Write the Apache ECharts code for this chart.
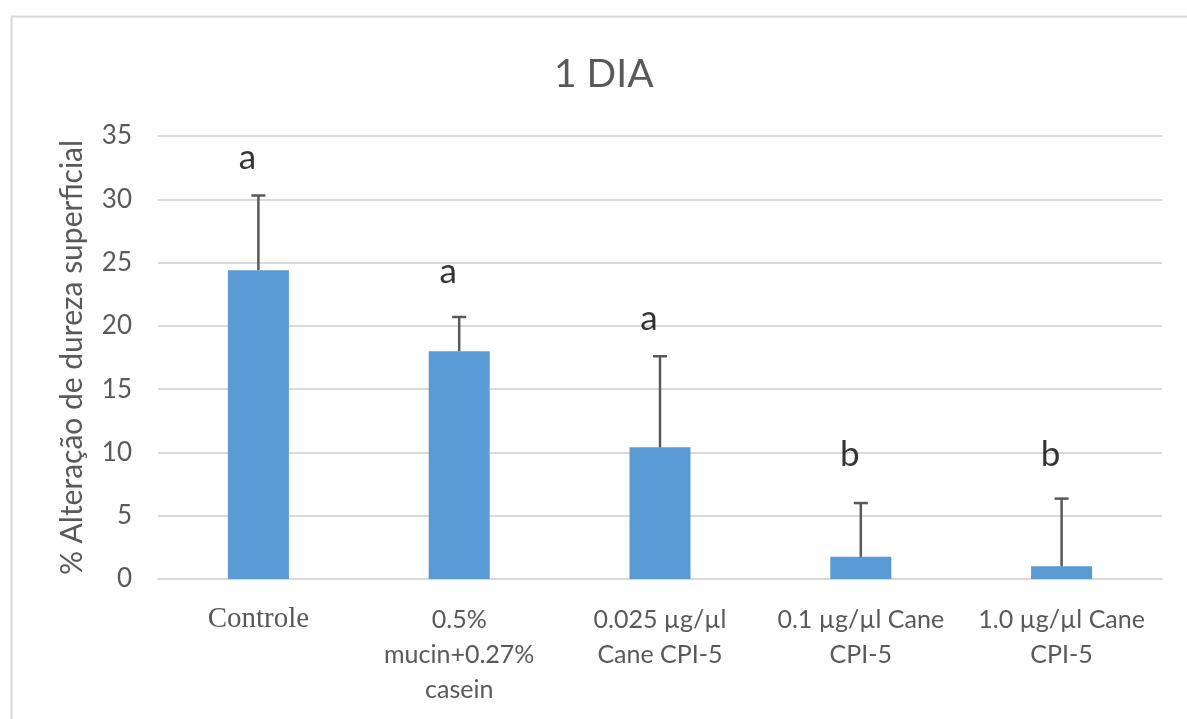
<!DOCTYPE html>
<html>
<head>
<meta charset="utf-8">
<script src="https://cdn.jsdelivr.net/npm/echarts@6/dist/echarts.min.js"></script>
<style>
  html, body { margin: 0; padding: 0; background: #fff; }
  #chart { width: 1187px; height: 719px; }
</style>
</head>
<body>
<div id="chart"></div>
<script>
// values
const categories = [
  'Controle',
  '0.5%\nmucin+0.27%\ncasein',
  '0.025 µg/µl\nCane CPI-5',
  '0.1 µg/µl Cane\nCPI-5',
  '1.0 µg/µl Cane\nCPI-5',
];
const means = [24.4, 18.0, 10.4, 1.75, 1.0];
const errorTops = [30.3, 20.7, 17.6, 6.0, 6.35];
const letters = ['a', 'a', 'a', 'b', 'b'];
const letterY = [33.3, 24.3, 20.6, 9.8, 9.8];

const yTicks = [0, 5, 10, 15, 20, 25, 30, 35];

const grey = '#595959';
const gridGrey = '#D9D9D9';
const sans = 'Lato, "Open Sans", sans-serif';

const chart = echarts.init(document.getElementById('chart'));

const option = {
  animation: false,
  backgroundColor: '#fff',
  graphic: [{
    type: 'rect',
    left: 9,
    top: 14,
    shape: { width: 1300, height: 1000 },
    style: { fill: 'none', stroke: gridGrey, lineWidth: 2 },
    silent: true,
  }],
  title: {
    text: '1 DIA',
    left: 549,
    top: 50,
    textStyle: { color: grey, fontSize: 39, fontWeight: 'normal', fontFamily: sans },
  },
  grid: {
    left: 158,
    right: 25,
    top: 136,
    bottom: 140,
  },
  xAxis: {
    type: 'category',
    data: categories,
    axisLine: { lineStyle: { color: gridGrey, width: 2 } },
    axisTick: { show: false },
    axisLabel: {
      interval: 0,
      margin: 23,
      color: grey,
      fontFamily: sans,
      fontSize: 25,
      lineHeight: 35,
      formatter(v) {
        if (v === 'Controle') return `{serif|${v}}`;
        return v;
      },
      rich: {
        serif: {
          fontFamily: '"Liberation Serif", serif',
          fontSize: 29,
          color: grey,
          lineHeight: 35,
        },
      },
    },
  },
  yAxis: {
    type: 'value',
    min: 0,
    max: 35,
    interval: 5,
    name: '% Alteração de dureza superficial',
    nameLocation: 'middle',
    nameGap: 71,
    nameRotate: 90,
    nameTextStyle: { color: grey, fontSize: 30, fontFamily: sans },
    axisLine: { show: false },
    axisTick: { show: false },
    axisLabel: {
      color: grey,
      fontSize: 26,
      fontFamily: sans,
      margin: 26,
      formatter(v) { return yTicks.includes(v) ? String(v) : ''; },
    },
    splitLine: { lineStyle: { color: gridGrey, width: 2 } },
  },
  series: [
    {
      type: 'bar',
      data: means,
      barWidth: 61,
      itemStyle: { color: '#5B9BD5' },
      z: 2,
    },
    {
      type: 'custom',
      z: 3,
      data: means.map((m, i) => [i, m, errorTops[i]]),
      renderItem(params, api) {
        const base = api.coord([api.value(0), api.value(1)]);
        const top = api.coord([api.value(0), api.value(2)]);
        const half = 7;
        return {
          type: 'group',
          children: [
            {
              type: 'line',
              shape: { x1: base[0], y1: base[1], x2: top[0], y2: top[1] },
              style: { stroke: grey, lineWidth: 2.5 },
            },
            {
              type: 'line',
              shape: { x1: top[0] - half, y1: top[1], x2: top[0] + half, y2: top[1] },
              style: { stroke: grey, lineWidth: 2.5 },
            },
          ],
        };
      },
    },
    {
      type: 'scatter',
      symbolSize: 0,
      z: 4,
      data: letters.map((l, i) => ({ value: [i, letterY[i]], name: l })),
      label: {
        show: true,
        position: 'inside',
        offset: [-11, 0],
        formatter: p => p.name,
        color: '#000',
        fontSize: 35,
        fontFamily: sans,
      },
    },
  ],
};

chart.setOption(option);
</script>
</body>
</html>
